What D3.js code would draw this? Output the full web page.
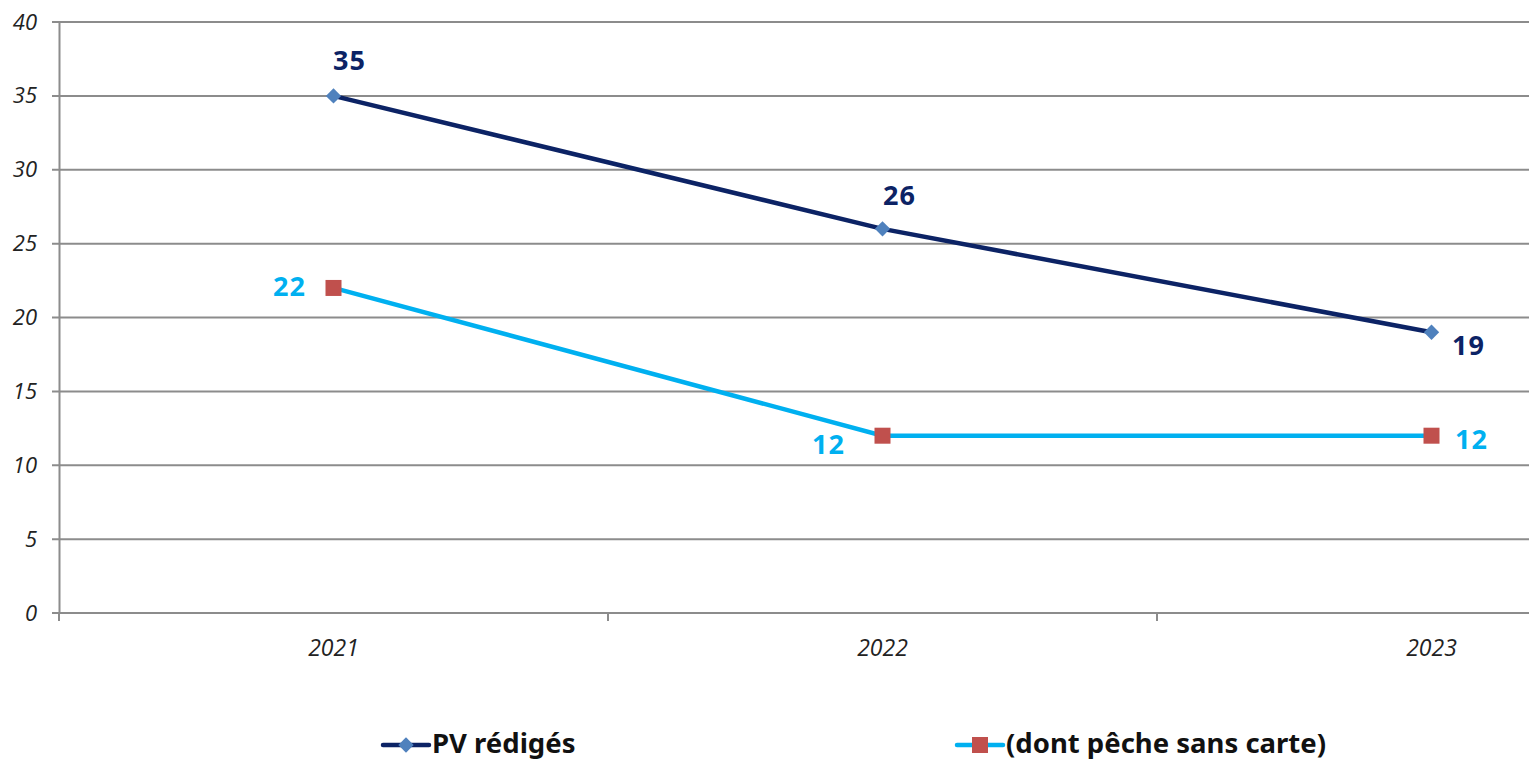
<!DOCTYPE html>
<html>
<head>
<meta charset="utf-8">
<script src="https://cdn.jsdelivr.net/npm/d3@7"></script>
<style>
  body { margin: 0; background: #fff; overflow: hidden; }
  svg { display: block; }
</style>
</head>
<body>
<svg id="chart" width="1529" height="762"></svg>
<script>
// data
var years = ["2021", "2022", "2023"];
var pvRediges = [35, 26, 19];
var sansCarte = [22, 12, 12];
var yTicks = [0, 5, 10, 15, 20, 25, 30, 35, 40];
var seriesNames = ["PV rédigés", "(dont pêche sans carte)"];

var svg = d3.select("#chart");
var margin = {top: 22, left: 59, bottom: 149};
var height = 762 - margin.top - margin.bottom;

// plot area runs past the right edge of the window (clipped like the original)
var x = d3.scaleBand()
    .domain(years)
    .range([margin.left, margin.left + 3 * 549]);

var y = d3.scaleLinear()
    .domain([0, 40])
    .range([margin.top + height, margin.top]);

var grey = "#8c8c8c";

// gridlines
svg.append("g")
    .selectAll("line")
    .data(yTicks)
    .enter()
    .append("line")
    .attr("x1", margin.left - 7)
    .attr("x2", 1529)
    .attr("y1", function (d) { return y(d); })
    .attr("y2", function (d) { return y(d); })
    .attr("stroke", grey)
    .attr("stroke-width", 2);

// y axis
var yAxis = d3.axisLeft(y).tickValues(yTicks).tickSize(0).tickPadding(22);
var gy = svg.append("g")
    .attr("transform", "translate(" + margin.left + ",0)")
    .call(yAxis);
gy.select(".domain").attr("stroke", grey).attr("stroke-width", 2);
gy.selectAll("text")
    .attr("font-family", "Open Sans, sans-serif")
    .attr("font-style", "italic")
    .attr("font-size", 22)
    .attr("fill", "#222");

// x axis
var gx = svg.append("g")
    .attr("transform", "translate(0," + y(0) + ")");
gx.append("line")
    .attr("x1", margin.left).attr("x2", 1529)
    .attr("stroke", grey).attr("stroke-width", 2);
var bounds = [0, 1, 2].map(function (i) { return x.range()[0] + i * x.step(); });
gx.selectAll(".tick")
    .data(bounds)
    .enter()
    .append("line")
    .attr("x1", function (d) { return d; })
    .attr("x2", function (d) { return d; })
    .attr("y1", 0).attr("y2", 8)
    .attr("stroke", grey).attr("stroke-width", 2);
gx.selectAll(".lbl")
    .data(years)
    .enter()
    .append("text")
    .attr("x", function (d) { return x(d) + x.bandwidth() / 2; })
    .attr("y", 43)
    .attr("text-anchor", "middle")
    .attr("font-family", "Open Sans, sans-serif")
    .attr("font-style", "italic")
    .attr("font-size", 23)
    .attr("fill", "#222")
    .text(function (d) { return d; });

function cx(i) { return x(years[i]) + x.bandwidth() / 2; }

var line = d3.line()
    .x(function (d, i) { return cx(i); })
    .y(function (d) { return y(d); });

var navy = "#0c2365", sky = "#00b0f0";

svg.append("path").datum(pvRediges)
    .attr("d", line).attr("fill", "none")
    .attr("stroke", navy).attr("stroke-width", 4.5);
svg.append("path").datum(sansCarte)
    .attr("d", line).attr("fill", "none")
    .attr("stroke", sky).attr("stroke-width", 4.5);

var diamond = d3.symbol().type(d3.symbolDiamond2).size(150);

svg.selectAll(".dia")
    .data(pvRediges)
    .enter()
    .append("path")
    .attr("d", diamond)
    .attr("transform", function (d, i) { return "translate(" + cx(i) + "," + y(d) + ")"; })
    .attr("fill", "#4f81bd");

svg.selectAll(".sq")
    .data(sansCarte)
    .enter()
    .append("rect")
    .attr("x", function (d, i) { return cx(i) - 8; })
    .attr("y", function (d) { return y(d) - 8; })
    .attr("width", 16).attr("height", 16)
    .attr("fill", "#c0504d");

// data labels
var pvOff = [[16, -33], [17, -31], [37, 15]];
var scOff = [[-44, 1], [-54, 11], [40, 6]];

function labels(data, off, color) {
    svg.selectAll(null)
        .data(data)
        .enter()
        .append("text")
        .attr("x", function (d, i) { return cx(i) + off[i][0]; })
        .attr("y", function (d, i) { return y(d) + off[i][1]; })
        .attr("text-anchor", "middle")
        .attr("dominant-baseline", "middle")
        .attr("font-family", "Noto Sans, sans-serif")
        .attr("font-weight", "bold")
        .attr("font-size", 27)
        .attr("letter-spacing", 1)
        .attr("fill", color)
        .text(function (d) { return d; });
}
labels(pvRediges, pvOff, navy);
labels(sansCarte, scOff, sky);

// legend
var legend = [
    {name: seriesNames[0], x: 383, line: navy, mark: "dia"},
    {name: seriesNames[1], x: 957, line: sky, mark: "sq"}
];
var lg = svg.selectAll(".leg")
    .data(legend)
    .enter()
    .append("g")
    .attr("transform", function (d) { return "translate(" + d.x + ",745)"; });
lg.append("line")
    .attr("x1", 0).attr("x2", 46)
    .attr("stroke", function (d) { return d.line; })
    .attr("stroke-width", 4.5)
    .attr("stroke-linecap", "round");
lg.each(function (d) {
    var g = d3.select(this);
    if (d.mark == "dia") {
        g.append("path").attr("d", diamond).attr("transform", "translate(23,0)").attr("fill", "#4f81bd");
    } else {
        g.append("rect").attr("x", 15).attr("y", -8).attr("width", 16).attr("height", 16).attr("fill", "#c0504d");
    }
});
lg.append("text")
    .attr("x", 49)
    .attr("y", 0)
    .attr("dominant-baseline", "middle")
    .attr("font-family", "Noto Sans, sans-serif")
    .attr("font-weight", "bold")
    .attr("font-size", 27.5)
    .attr("fill", "#111")
    .text(function (d) { return d.name; });
</script>
</body>
</html>
